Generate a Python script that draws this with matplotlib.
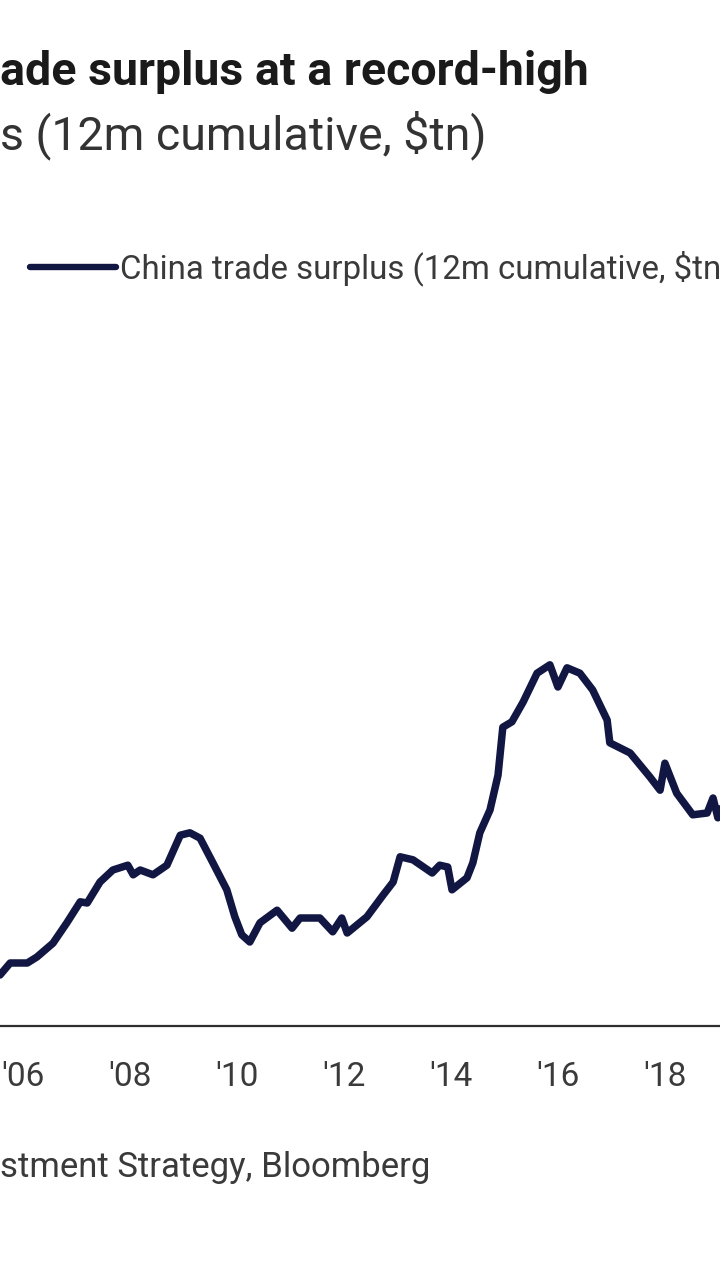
import matplotlib
matplotlib.use("Agg")
import matplotlib.pyplot as plt
from matplotlib import font_manager

# ---- data ----
years = [2005.57, 2005.76, 2006.08, 2006.26, 2006.56, 2006.82, 2007.07, 2007.20,
         2007.44, 2007.68, 2007.96, 2008.06, 2008.19, 2008.43, 2008.69, 2008.94,
         2009.12, 2009.31, 2009.55, 2009.81, 2009.96, 2010.09, 2010.24, 2010.43,
         2010.75, 2011.03, 2011.18, 2011.55, 2011.79, 2011.96, 2012.06, 2012.43,
         2012.73, 2012.92, 2013.05, 2013.29, 2013.65, 2013.79, 2013.94, 2014.02,
         2014.30, 2014.41, 2014.54, 2014.73, 2014.88, 2014.97, 2015.14, 2015.35,
         2015.61, 2015.85, 2016.00, 2016.17, 2016.41, 2016.65, 2016.92, 2016.97,
         2017.35, 2017.72, 2017.91, 2018.00, 2018.22, 2018.52, 2018.79, 2018.90,
         2018.99, 2019.07]
surplus = [0.085, 0.105, 0.105, 0.115, 0.138, 0.172, 0.207, 0.205,
           0.240, 0.260, 0.268, 0.252, 0.260, 0.252, 0.268, 0.318,
           0.322, 0.313, 0.272, 0.227, 0.182, 0.152, 0.140, 0.172,
           0.193, 0.163, 0.180, 0.180, 0.157, 0.180, 0.155, 0.182,
           0.218, 0.240, 0.282, 0.277, 0.255, 0.268, 0.265, 0.227,
           0.247, 0.272, 0.322, 0.360, 0.418, 0.498, 0.507, 0.540,
           0.588, 0.602, 0.565, 0.597, 0.588, 0.560, 0.510, 0.472,
           0.455, 0.415, 0.393, 0.438, 0.388, 0.352, 0.355, 0.380,
           0.347, 0.368]
tick_years = [2006, 2008, 2010, 2012, 2014, 2016, 2018]
tick_labels = ["'06", "'08", "'10", "'12", "'14", "'16", "'18"]
series_label = "China trade surplus (12m cumulative, $tn"
title_text = "ade surplus at a record-high"
subtitle_text = "s (12m cumulative, $tn)"
source_text = "stment Strategy, Bloomberg"

# ---- fonts ----
avail = {f.name for f in font_manager.fontManager.ttflist}
narrow = "Liberation Sans Narrow" if "Liberation Sans Narrow" in avail else "Roboto"
plt.rcParams["font.family"] = [narrow, "DejaVu Sans"]

W, H = 720, 1280
fig = plt.figure(figsize=(W / 100, H / 100), dpi=100)
fig.patch.set_facecolor("white")

def fx(x):
    return x / W

def fy(y):
    return 1 - y / H

base_y = 1026
top_y = 230
ax = fig.add_axes([0, fy(base_y), 1, (base_y - top_y) / H])
ax.set_facecolor("white")

navy = "#111742"
ax.plot(years, surplus, color=navy, lw=5.4, solid_joinstyle="round",
        solid_capstyle="round", label=series_label)

ax.set_xlim(2005.57, 2019.03)
ax.set_ylim(0, (base_y - top_y) / 600)

for s in ["top", "left", "right"]:
    ax.spines[s].set_visible(False)
ax.spines["bottom"].set_color("#2e2e2e")
ax.spines["bottom"].set_linewidth(1.6)
ax.set_yticks([])
ax.set_xticks(tick_years)
ax.set_xticklabels(tick_labels)
ax.tick_params(axis="x", length=0, pad=25, labelsize=24, labelcolor="#3a3a3a")

leg = ax.legend(loc="center left", bbox_to_anchor=(fx(30), fy(268)),
                bbox_transform=fig.transFigure, frameon=False,
                handlelength=2.6, handletextpad=0.12, fontsize=23.8,
                borderaxespad=0, borderpad=0)
for t in leg.get_texts():
    t.set_color("#3a3a3a")
for l in leg.get_lines():
    l.set_linewidth(4.6)

fig.text(fx(0), fy(72), title_text, ha="left", va="center", fontsize=33.5,
         fontweight="bold", color="#1a1a1a")
fig.text(fx(0), fy(135), subtitle_text, ha="left", va="center", fontsize=33.5,
         color="#333333")
fig.text(fx(0), fy(1168), source_text, ha="left", va="center", fontsize=25,
         color="#3a3a3a")

fig.savefig("out.png", dpi=100, facecolor="white")
